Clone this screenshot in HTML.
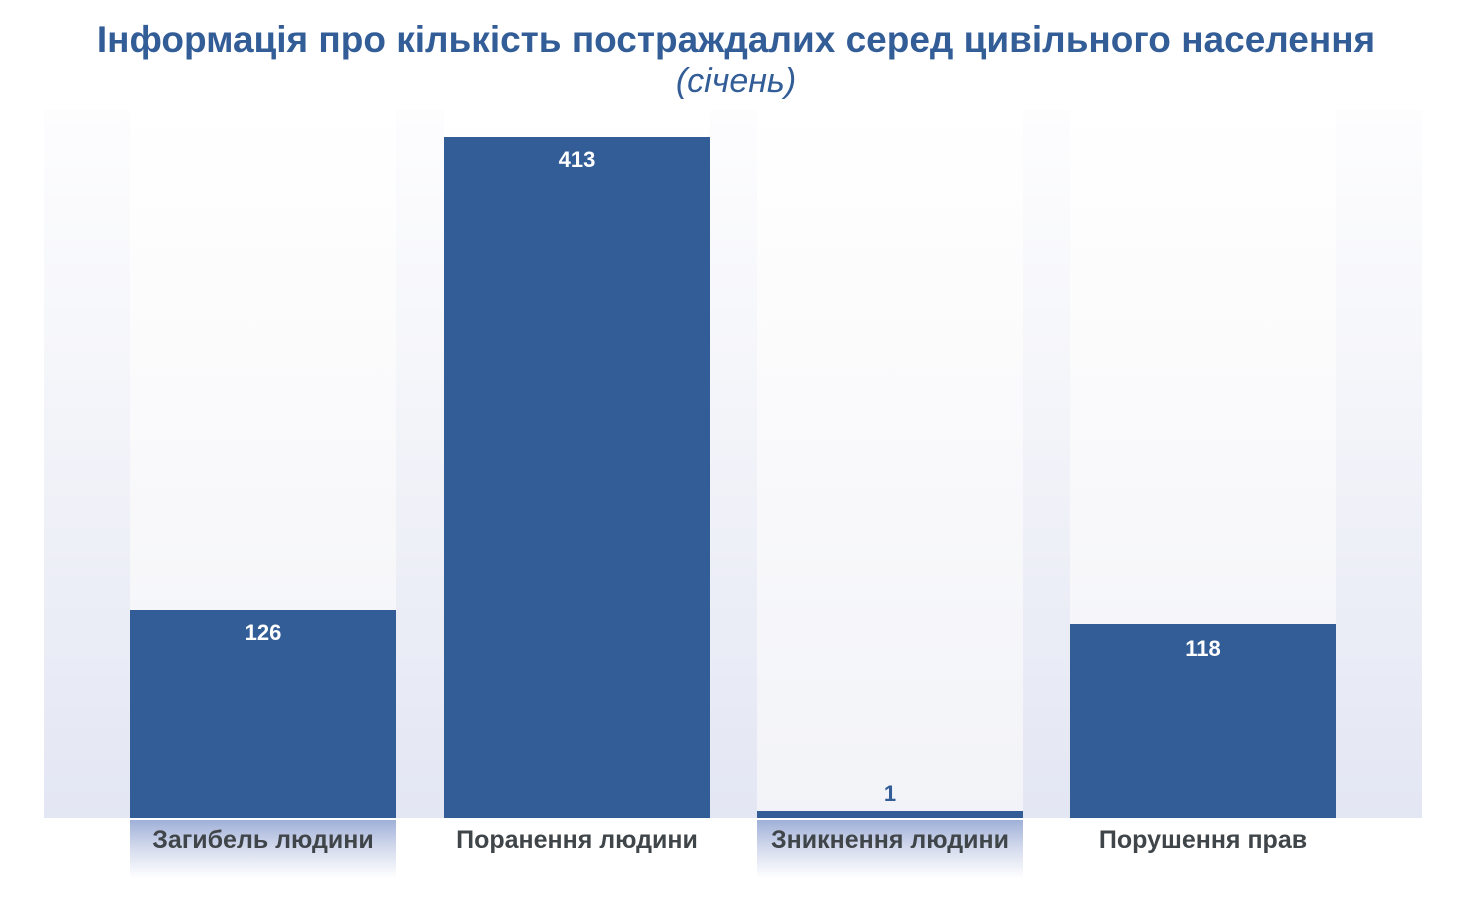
<!DOCTYPE html>
<html><head><meta charset="utf-8"><style>
body{margin:0;width:1472px;height:902px;background:#fff;position:relative;overflow:hidden;font-family:"Liberation Sans",sans-serif}
.abs{position:absolute}
.plot{left:44px;top:110px;width:1378px;height:708px;background:linear-gradient(#fdfdfe,#f4f5fa 40%,#e3e6f3)}
.col{top:110px;height:708px;width:266px;background:linear-gradient(#ffffff,#f9f9fb 50%,#f2f3f8)}
.bar{background:#335d97;width:266px;bottom:84px;color:#fff;font-weight:bold;font-size:22px;text-align:center;box-sizing:border-box;padding-top:10px}
.lab{top:820px;width:266px;height:58px;text-align:center;font-weight:bold;font-size:25px;color:#3f4548;line-height:40px}
.hl{background:linear-gradient(#a0b0d8,#d6dcee 50%,#fff)}
</style></head><body>
<div class="abs plot"></div>
<div class="abs col" style="left:130px"></div>
<div class="abs col" style="left:444px"></div>
<div class="abs col" style="left:757px"></div>
<div class="abs col" style="left:1070px"></div>
<div class="abs" style="left:0;width:1472px;top:19px;text-align:center;color:#335d97;font-weight:bold;font-size:37px">Інформація про кількість постраждалих серед цивільного населення</div>
<div class="abs" style="left:0;width:1472px;top:62px;text-align:center;color:#335d97;font-style:italic;font-size:34px">(січень)</div>
<div class="abs bar" style="left:130px;height:208px">126</div>
<div class="abs bar" style="left:444px;height:681px">413</div>
<div class="abs bar" style="left:757px;height:7px;padding:0"><span style="position:absolute;left:0;right:0;top:-30px;color:#335d97">1</span></div>
<div class="abs bar" style="left:1070px;height:194px;padding-top:12px">118</div>
<div class="abs lab hl" style="left:130px">Загибель людини</div>
<div class="abs lab" style="left:444px">Поранення людини</div>
<div class="abs lab hl" style="left:757px">Зникнення людини</div>
<div class="abs lab" style="left:1070px">Порушення прав</div>
</body></html>
